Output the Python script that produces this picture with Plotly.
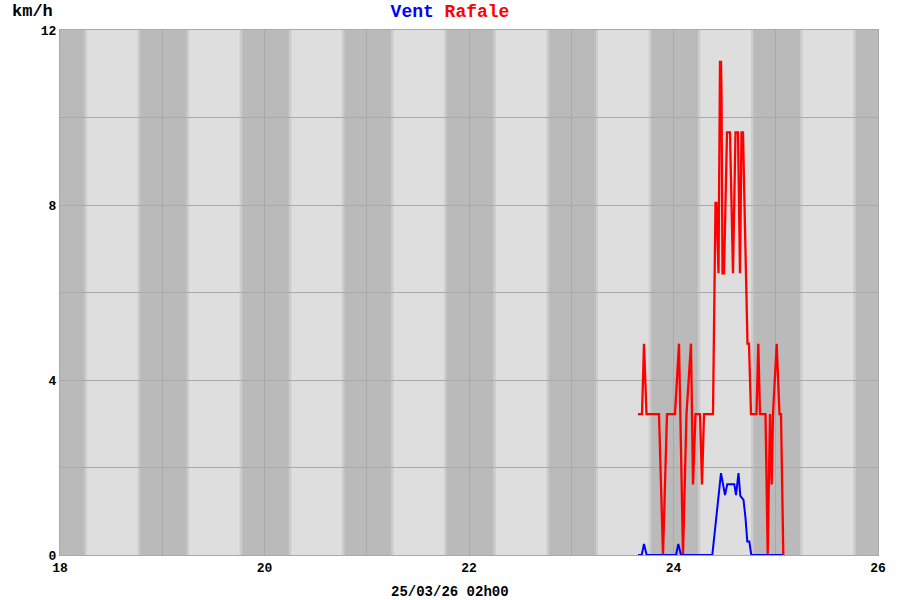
import plotly.graph_objects as go

# Time axis in days (day-of-month, fractional)
rafale_x = [23.6528, 23.6920, 23.7115, 23.7359, 23.8582, 23.8973, 23.9364, 24.0147,
            24.0538, 24.0929, 24.1271, 24.1711, 24.1907, 24.2152, 24.2592, 24.2787,
            24.2983, 24.3863, 24.4108, 24.4205, 24.4401, 24.4548, 24.4645, 24.4694,
            24.4792, 24.4939, 24.5232, 24.5526, 24.5819, 24.6064, 24.6308, 24.6504,
            24.6650, 24.6797, 24.6944, 24.7090, 24.7237, 24.7384, 24.7579, 24.8117,
            24.8293, 24.8460, 24.8998, 24.9213, 24.9438, 24.9604, 24.9731, 25.0093,
            25.0367, 25.0513, 25.0739]
rafale_y = [3.22, 3.22, 4.83, 3.22, 3.22, 0.0, 3.22, 3.22,
            4.83, 0.0, 3.22, 4.83, 1.61, 3.22, 3.22, 1.61,
            3.22, 3.22, 8.05, 8.05, 6.44, 11.27, 11.27, 10.6,
            6.44, 6.44, 9.66, 9.66, 6.44, 9.66, 9.66, 6.44,
            9.66, 9.66, 8.0, 6.2, 4.83, 4.83, 3.22, 3.22,
            4.83, 3.22, 3.22, 0.0, 3.22, 1.61, 3.22, 4.83,
            3.22, 3.22, 0.0]

vent_x = [23.6528, 23.6890, 23.7115, 23.7379, 24.0244, 24.0469, 24.0733, 24.3795,
          24.4645, 24.5037, 24.5262, 24.5946, 24.6112, 24.6357, 24.6533, 24.6846,
          24.7042, 24.7218, 24.7413, 24.7609, 25.0680]
vent_y = [0.0, 0.0, 0.25, 0.0, 0.0, 0.25, 0.0, 0.0,
          1.87, 1.37, 1.62, 1.62, 1.37, 1.87, 1.35, 1.26,
          0.85, 0.31, 0.31, 0.0, 0.0]

# Night bands (start, end) in days
night_start = [17.77, 18.77, 19.77, 20.77, 21.77, 22.77, 23.77, 24.77, 25.77]
night_end = [18.25, 19.25, 20.25, 21.25, 22.25, 23.25, 24.25, 25.25, 26.25]

x_ticks = [18, 20, 22, 24, 26]
y_ticks = [0, 4, 8, 12]

FONT = "Liberation Mono"
LIGHT = "#dedede"
DARK = "#bababa"
EDGE = "#cccccc"
GRID = "#a9a9a9"

fig = go.Figure()

shapes = []
for s, e in zip(night_start, night_end):
    shapes.append(dict(type="rect", xref="x", yref="paper", x0=s, x1=e, y0=0, y1=1,
                       fillcolor=DARK, line=dict(width=0), layer="below"))
    for edge in (s, e):
        shapes.append(dict(type="rect", xref="x", yref="paper", x0=edge - 0.012, x1=edge + 0.012,
                           y0=0, y1=1, fillcolor=EDGE, line=dict(width=0), layer="below"))

fig.add_trace(go.Scatter(x=rafale_x, y=rafale_y, mode="lines", name="Rafale",
                         line=dict(color="#ff0000", width=2.3), hoverinfo="skip"))
fig.add_trace(go.Scatter(x=vent_x, y=vent_y, mode="lines", name="Vent",
                         line=dict(color="#0000ff", width=2), hoverinfo="skip"))

fig.update_layout(
    width=900, height=600,
    margin=dict(l=60, r=22, t=30, b=45),
    paper_bgcolor="white", plot_bgcolor=LIGHT,
    showlegend=False,
    shapes=shapes,
    font=dict(family=FONT, size=13, color="black"),
    title=dict(
        text="<b><span style='color:#0000ff'>Vent</span> <span style='color:#ff0000'>Rafale</span></b>",
        xref="container", yref="container", x=0.5, y=0.983, xanchor="center", yanchor="middle",
        font=dict(family=FONT, size=18)),
    annotations=[
        dict(text="<b>km/h</b>", xref="paper", yref="paper", x=-0.034, y=1.036,
             xanchor="center", yanchor="middle", showarrow=False,
             font=dict(family=FONT, size=17, color="black")),
        dict(text="<b>25/03/26 02h00</b>", xref="paper", yref="paper", x=0.4768, y=-0.0705,
             xanchor="center", yanchor="middle", showarrow=False,
             font=dict(family=FONT, size=14, color="black")),
    ],
)

fig.update_xaxes(range=[18, 26], tickvals=x_ticks, ticktext=[f"<b>{v}</b>" for v in x_ticks],
                 showgrid=True, gridcolor=GRID, gridwidth=1,
                 minor=dict(dtick=1, showgrid=True, gridcolor=GRID, gridwidth=1),
                 zeroline=False, showline=True, linecolor=GRID, linewidth=1, mirror=True,
                 ticks="", fixedrange=True)
fig.update_yaxes(range=[0, 12], tickvals=y_ticks, ticktext=[f"<b>{v}</b>" for v in y_ticks],
                 showgrid=True, gridcolor=GRID, gridwidth=1,
                 minor=dict(dtick=2, showgrid=True, gridcolor=GRID, gridwidth=1),
                 zeroline=False, showline=True, linecolor=GRID, linewidth=1, mirror=True,
                 ticks="", fixedrange=True)

fig.write_html("out.html", config={"displayModeBar": False},
               post_script="document.body.style.margin='0px';")
